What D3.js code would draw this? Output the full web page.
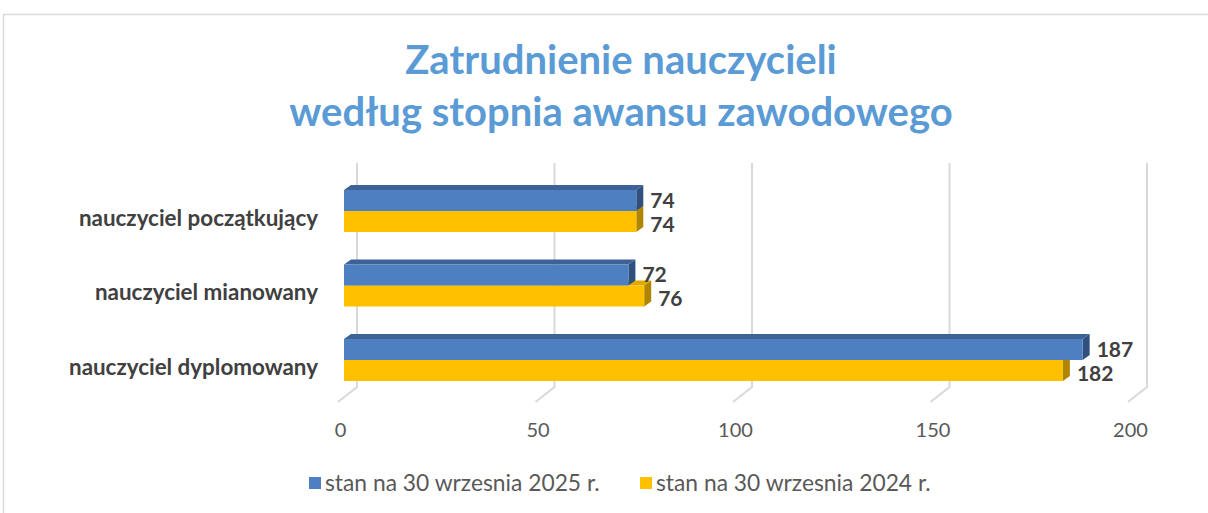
<!DOCTYPE html>
<html>
<head>
<meta charset="utf-8">
<script src="https://cdnjs.cloudflare.com/ajax/libs/d3/7.8.5/d3.min.js"></script>
<style>
  body { margin: 0; background: #fff; }
  svg { display: block; }
  text { font-family: Lato, "Open Sans", sans-serif; }
</style>
</head>
<body>
<div id="chart"></div>
<script>
// Chart data
var categories = ["nauczyciel początkujący", "nauczyciel mianowany", "nauczyciel dyplomowany"];
var seriesNames = ["stan na 30 wrzesnia 2025 r.", "stan na 30 wrzesnia 2024 r."];
var values2025 = [74, 72, 187];
var values2024 = [74, 76, 182];
var tickValues = [0, 50, 100, 150, 200];

var svgWidth = 1208, svgHeight = 513;

var svg = d3.select("#chart").append("svg")
  .attr("width", svgWidth)
  .attr("height", svgHeight);

// outer chart border
svg.append("rect")
  .attr("x", 3.5).attr("y", 14.5)
  .attr("width", 1220).attr("height", 520)
  .attr("fill", "none")
  .attr("stroke", "#d9d9d9")
  .attr("stroke-width", 1.5);

// title
var title = svg.append("text")
  .attr("x", 621).attr("y", 74)
  .attr("text-anchor", "middle")
  .attr("fill", "#5b9bd5")
  .attr("font-size", "40px")
  .attr("font-weight", "700");
title.append("tspan").attr("x", 621).attr("dy", 0).text("Zatrudnienie nauczycieli");
title.append("tspan").attr("x", 621).attr("dy", 52).text("według stopnia awansu zawodowego");

// 3D depth offset
var depthX = 7, depthY = -5;

// scales
var x = d3.scaleLinear().domain([0, 200]).range([344, 1134]);
var yCat = d3.scalePoint().domain(categories).range([211, 360]);
var ySer = d3.scaleBand().domain(seriesNames).range([-21, 21]);

var colors = {
  "stan na 30 wrzesnia 2025 r.": { front: "#4e7fc0", top: "#3d6298", side: "#30507e" },
  "stan na 30 wrzesnia 2024 r.": { front: "#ffc000", top: "#e0a900", side: "#b08600" }
};

// back wall gridlines + floor
var wallTop = 163, wallBottom = 387, floorDX = -19, floorDY = 15;
var grid = svg.append("g");
tickValues.forEach(function(t) {
  var bx = x(t) + 13;
  grid.append("polyline")
    .attr("points", [[bx, wallTop], [bx, wallBottom], [bx + floorDX, wallBottom + floorDY]].map(function(p) { return p.join(","); }).join(" "))
    .attr("fill", "none")
    .attr("stroke", "#d9d9d9")
    .attr("stroke-width", 2);
});

// x axis labels
var xAxis = d3.axisBottom(x).tickValues(tickValues).tickSize(0).tickPadding(0);
var axisG = svg.append("g")
  .attr("transform", "translate(-4, 423)")
  .call(xAxis);
axisG.select(".domain").remove();
axisG.selectAll("text")
  .attr("font-family", "Lato, sans-serif")
  .attr("font-size", "20px")
  .attr("fill", "#595959");

// bars
var rows = [];
categories.forEach(function(c, i) {
  rows.push({ cat: c, series: seriesNames[1], value: values2024[i] });
  rows.push({ cat: c, series: seriesNames[0], value: values2025[i] });
});

function pts(arr) { return arr.map(function(p) { return p.join(","); }).join(" "); }

var barG = svg.append("g");
categories.forEach(function(c) {
  // draw lower series first so upper one overlaps it
  rows.filter(function(r) { return r.cat === c; }).forEach(function(r) {
    var x0 = x(0), x1 = x(r.value);
    var y0 = yCat(r.cat) + ySer(r.series);
    var y1 = y0 + ySer.bandwidth();
    var col = colors[r.series];
    barG.append("polygon")
      .attr("points", pts([[x0, y0], [x0 + depthX, y0 + depthY], [x1 + depthX, y0 + depthY], [x1, y0]]))
      .attr("fill", col.top);
    barG.append("polygon")
      .attr("points", pts([[x1, y0], [x1 + depthX, y0 + depthY], [x1 + depthX, y1 + depthY], [x1, y1]]))
      .attr("fill", col.side);
    barG.append("rect")
      .attr("x", x0).attr("y", y0)
      .attr("width", x1 - x0).attr("height", y1 - y0)
      .attr("fill", col.front);
  });
});

// value labels
svg.append("g").selectAll("text")
  .data(rows)
  .enter()
  .append("text")
  .attr("x", function(d) { return x(d.value) + 14; })
  .attr("y", function(d) {
    var shift = d.series === seriesNames[0] ? 0 : 3;
    return yCat(d.cat) + ySer(d.series) + ySer.bandwidth() / 2 + shift;
  })
  .attr("dy", "0.35em")
  .attr("font-size", "21px")
  .attr("font-weight", "700")
  .attr("fill", "#404040")
  .text(function(d) { return d.value; });

// category labels
svg.append("g").selectAll("text")
  .data(categories)
  .enter()
  .append("text")
  .attr("x", 318)
  .attr("y", function(d) { return yCat(d) + 7; })
  .attr("dy", "0.35em")
  .attr("text-anchor", "end")
  .attr("font-size", "22.4px")
  .attr("font-weight", "700")
  .attr("fill", "#404040")
  .text(function(d) { return d; });

// legend
var legendX = [309, 640];
var legend = svg.append("g").selectAll("g")
  .data(seriesNames)
  .enter()
  .append("g")
  .attr("transform", function(d, i) { return "translate(" + legendX[i] + ", 483)"; });
legend.append("rect")
  .attr("x", 0).attr("y", -6)
  .attr("width", 12).attr("height", 12)
  .attr("fill", function(d) { return colors[d].front; });
legend.append("text")
  .attr("x", 16)
  .attr("dy", "0.35em")
  .attr("font-size", "22.8px")
  .attr("fill", "#595959")
  .text(function(d) { return d; });
</script>
</body>
</html>
